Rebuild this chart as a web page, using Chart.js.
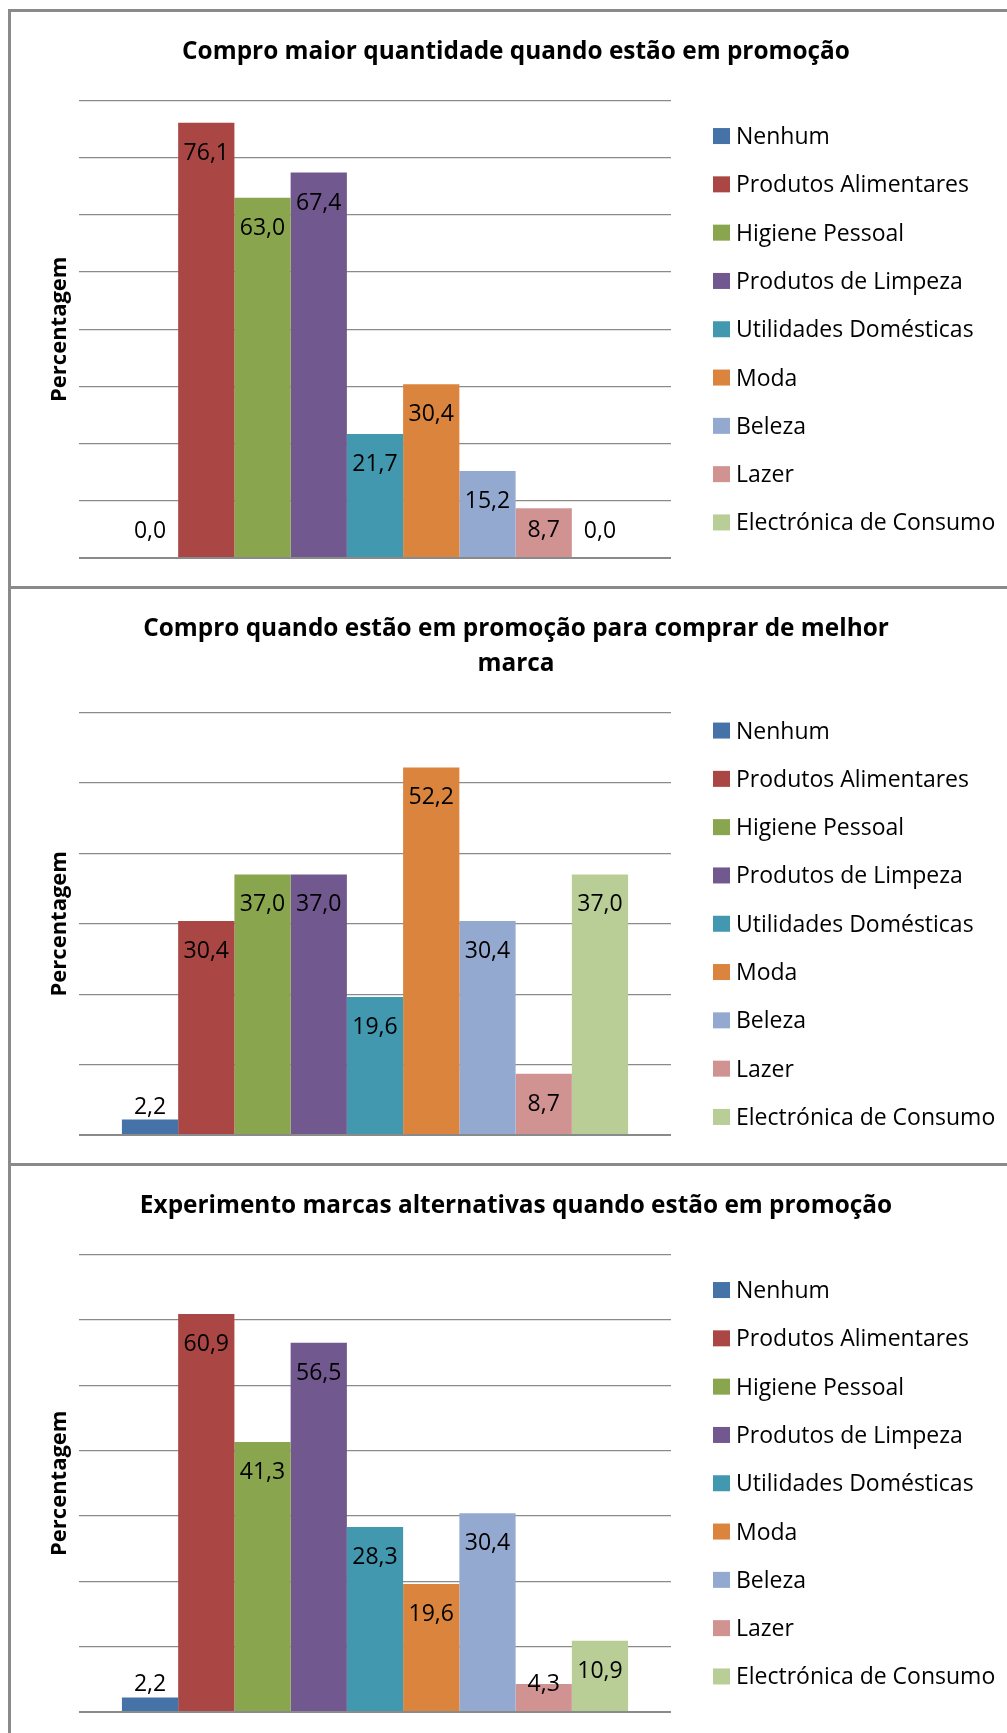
<!DOCTYPE html>
<html>
<head>
<meta charset="utf-8">
<script src="https://cdn.jsdelivr.net/npm/chart.js@4.4.0/dist/chart.umd.min.js"></script>
<style>
  body { margin: 0; width: 1007px; height: 1733px; overflow: hidden; background: #fff; position: relative; }
  .panel { position: absolute; left: 8px; width: 1010px; height: 574px;
           border-top: 3px solid #8a8a8a; border-left: 3px solid #8a8a8a; }
  .panel canvas { display: block; }
</style>
</head>
<body>
<div class="panel" style="top:9px"><canvas id="chart1" width="1010" height="574"></canvas></div>
<div class="panel" style="top:586px"><canvas id="chart2" width="1010" height="574"></canvas></div>
<div class="panel" style="top:1163px"><canvas id="chart3" width="1010" height="574"></canvas></div>
<script>
let categories = ['Nenhum', 'Produtos Alimentares', 'Higiene Pessoal', 'Produtos de Limpeza',
    'Utilidades Domésticas', 'Moda', 'Beleza', 'Lazer', 'Electrónica de Consumo'];

let maiorQuantidade = [0.0, 76.1, 63.0, 67.4, 21.7, 30.4, 15.2, 8.7, 0.0];
let melhorMarca = [2.2, 30.4, 37.0, 37.0, 19.6, 52.2, 30.4, 8.7, 37.0];
let marcasAlternativas = [2.2, 60.9, 41.3, 56.5, 28.3, 19.6, 30.4, 4.3, 10.9];

let chartTitles = [
    ['Compro maior quantidade quando estão em promoção'],
    ['Compro quando estão em promoção para comprar de melhor', 'marca'],
    ['Experimento marcas alternativas quando estão em promoção']
];
let axisMax = [80, 60, 70];

let colorCycle = ['#4572A7', '#AA4643', '#89A54E', '#71588F', '#4198AF',
    '#DB843D', '#93A9CF', '#D19392', '#B9CD96'];

const FONT = '"Open Sans", sans-serif';
const TITLE_LINE = 35;

// title centred on the whole canvas (the built-in one only spans the plot + padding)
const centredTitle = {
    id: 'centredTitle',
    afterDraw(chart, args, opts) {
        let ctx = chart.ctx;
        ctx.save();
        ctx.font = 'bold 24.4px ' + FONT;
        ctx.fillStyle = '#000';
        ctx.textAlign = 'center';
        ctx.textBaseline = 'middle';
        opts.lines.forEach((line, k) => {
            ctx.fillText(line, chart.width / 2, 40 + k * TITLE_LINE);
        });
        ctx.restore();
    }
};

// value labels: just inside the top of each bar, never closer to the base than 28px
const barLabels = {
    id: 'barLabels',
    afterDatasetsDraw(chart) {
        let ctx = chart.ctx;
        ctx.save();
        ctx.font = '23px ' + FONT;
        ctx.fillStyle = '#000';
        ctx.textAlign = 'center';
        ctx.textBaseline = 'alphabetic';
        chart.data.datasets.forEach((ds, i) => {
            chart.getDatasetMeta(i).data.forEach((bar, j) => {
                let mid = Math.min(bar.y + 29, bar.base - 28);
                ctx.fillText(ds.data[j].toFixed(1).replace('.', ','), bar.x, mid + 8);
            });
        });
        ctx.restore();
    }
};

// legend to the right, centred on the plot area
const sideLegend = {
    id: 'sideLegend',
    afterDraw(chart) {
        let ctx = chart.ctx;
        let area = chart.chartArea;
        let sets = chart.data.datasets;
        let step = 48.3;
        let midY = (area.top + area.bottom) / 2;
        let boxX = area.right + 42;
        ctx.save();
        ctx.font = '23px ' + FONT;
        ctx.textBaseline = 'alphabetic';
        ctx.textAlign = 'left';
        sets.forEach((ds, i) => {
            let y = midY + (i - (sets.length - 1) / 2) * step;
            ctx.fillStyle = ds.backgroundColor;
            ctx.fillRect(boxX, y - 8, 17, 16);
            ctx.fillStyle = '#000';
            ctx.fillText(ds.label, boxX + 23, y + 8);
        });
        ctx.restore();
    }
};

function drawPanel(canvasId, titleLines, values, max) {
    let datasets = [];
    for (let i = 0; i < categories.length; i++) {
        datasets.push({
            label: categories[i],
            data: [values[i]],
            backgroundColor: colorCycle[i % colorCycle.length],
            categoryPercentage: 0.855,
            barPercentage: 1
        });
    }

    return new Chart(document.getElementById(canvasId), {
        type: 'bar',
        data: {
            labels: [''],
            datasets: datasets
        },
        plugins: [barLabels, sideLegend, centredTitle],
        options: {
            responsive: false,
            animation: false,
            layout: {
                padding: { left: 32, right: 350, top: 88.5 + TITLE_LINE * (titleLines.length - 1), bottom: 28 }
            },
            plugins: {
                legend: { display: false },
                tooltip: { enabled: false },
                title: { display: false },
                centredTitle: { lines: titleLines }
            },
            scales: {
                x: { display: false },
                y: {
                    min: 0,
                    max: max,
                    ticks: { display: false, stepSize: 10 },
                    border: { display: false },
                    grid: {
                        drawTicks: false,
                        color: '#8a8a8a',
                        lineWidth: c => (c.tick && c.tick.value === 0 ? 2 : 1.3)
                    },
                    title: {
                        display: true,
                        text: 'Percentagem',
                        color: '#000',
                        font: { family: FONT, size: 22, weight: 'bold', lineHeight: 1.2 },
                        padding: { top: 3.8, bottom: 5.8 }
                    }
                }
            }
        }
    });
}

drawPanel('chart1', chartTitles[0], maiorQuantidade, axisMax[0]);
drawPanel('chart2', chartTitles[1], melhorMarca, axisMax[1]);
drawPanel('chart3', chartTitles[2], marcasAlternativas, axisMax[2]);
</script>
</body>
</html>
